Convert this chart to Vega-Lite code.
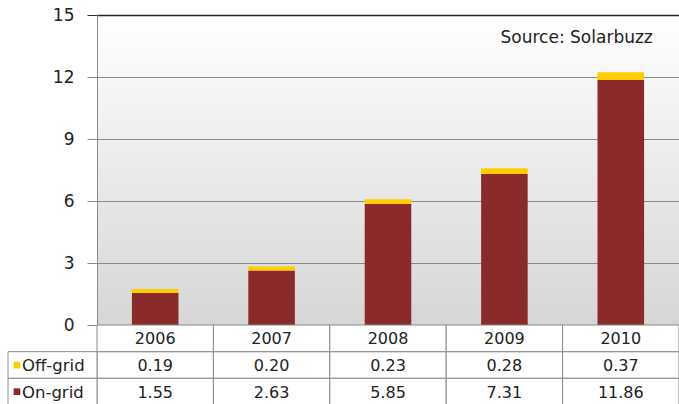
{
  "$schema": "https://vega.github.io/schema/vega-lite/v6.json",
  "autosize": "none",
  "padding": {"left": 97, "top": 15, "right": 0, "bottom": 0},
  "width": 582,
  "height": 390,
  "background": "white",
  "view": {
    "stroke": null,
    "fill": {
      "gradient": "linear", "x1": 0, "y1": 0, "x2": 0, "y2": 1,
      "stops": [
        {"offset": 0, "color": "#ffffff"},
        {"offset": 0.795, "color": "#d6d6d6"},
        {"offset": 1, "color": "#d6d6d6"}
      ]
    }
  },
  "config": {"view": {"stroke": null}, "font": "DejaVu Sans"},
  "datasets": {
    "solar": [
      {"year": "2006", "series": "Off-grid", "value": 0.19},
      {"year": "2006", "series": "On-grid", "value": 1.55},
      {"year": "2007", "series": "Off-grid", "value": 0.20},
      {"year": "2007", "series": "On-grid", "value": 2.63},
      {"year": "2008", "series": "Off-grid", "value": 0.23},
      {"year": "2008", "series": "On-grid", "value": 5.85},
      {"year": "2009", "series": "Off-grid", "value": 0.28},
      {"year": "2009", "series": "On-grid", "value": 7.31},
      {"year": "2010", "series": "Off-grid", "value": 0.37},
      {"year": "2010", "series": "On-grid", "value": 11.86}
    ]
  },
  "resolve": {"scale": {"x": "independent", "y": "independent"}},
  "layer": [
    {
      "layer": [
        {
          "data": {"name": "solar"},
          "mark": {"type": "bar"},
          "encoding": {
            "x": {"field": "year", "type": "nominal", "axis": null, "scale": {"paddingInner": 0.6, "paddingOuter": 0.3}},
            "y": {
              "field": "value", "type": "quantitative", "stack": "zero",
              "scale": {"domain": [0, 15], "range": [310, 0], "nice": false, "zero": true},
              "axis": {
                "values": [0, 3, 6, 9, 12, 15],
                "title": null,
                "grid": true,
                "gridColor": {"condition": {"test": "datum.value === 15", "value": "#2a2a2a"}, "value": "#8a8a8a"},
                "gridWidth": {"condition": {"test": "datum.value === 15", "value": 1.6}, "value": 1},
                "tickColor": {"condition": {"test": "datum.value === 15", "value": "#2a2a2a"}, "value": "#8a8a8a"},
                "tickSize": 10,
                "domainColor": "#8a8a8a",
                "labelFontSize": 17,
                "labelColor": "#222222",
                "labelPadding": 13,
                "labelFont": "DejaVu Sans"
              }
            },
            "color": {"field": "series", "type": "nominal", "scale": {"domain": ["Off-grid", "On-grid"], "range": ["#FFCC00", "#8B2A2A"]}, "legend": null},
            "order": {"field": "series", "sort": "descending"}
          }
        },
        {
          "data": {"values": [{"note": "Source: Solarbuzz"}]},
          "mark": {"type": "text", "align": "right", "baseline": "middle", "dx": 32, "fontSize": 17, "color": "#222222"},
          "encoding": {
            "x": {"datum": "2010", "type": "nominal"},
            "y": {"datum": 13.9, "type": "quantitative"},
            "text": {"field": "note"}
          }
        }
      ]
    },
    {
      "data": {"name": "solar"},
      "resolve": {"scale": {"x": "independent"}},
      "layer": [
        {
          "layer": [
            {
              "mark": {"type": "rect", "fill": "white", "stroke": "#8a8a8a", "strokeWidth": 1},
              "encoding": {
                "x": {"field": "year", "type": "nominal", "axis": null, "scale": {"paddingInner": 0, "paddingOuter": 0}},
                "y": {"field": "series", "type": "nominal", "axis": null, "scale": {"domain": ["Year", "Off-grid", "On-grid"], "range": [310, 390], "paddingInner": 0, "paddingOuter": 0}}
              }
            },
            {
              "transform": [{"filter": "datum.series == 'On-grid'"}],
              "mark": {"type": "rect", "fill": "white", "stroke": "#8a8a8a", "strokeWidth": 1},
              "encoding": {
                "x": {"field": "year", "type": "nominal"},
                "y": {"datum": "Year", "type": "nominal"}
              }
            },
            {
              "mark": {"type": "text", "baseline": "middle", "fontSize": 16, "color": "#222222", "dy": 1},
              "encoding": {
                "x": {"field": "year", "type": "nominal"},
                "y": {"field": "series", "type": "nominal"},
                "text": {"field": "value", "type": "quantitative", "format": ".2f"}
              }
            },
            {
              "transform": [{"filter": "datum.series == 'On-grid'"}],
              "mark": {"type": "text", "baseline": "middle", "fontSize": 16, "color": "#222222", "dy": 1},
              "encoding": {
                "x": {"field": "year", "type": "nominal"},
                "y": {"datum": "Year", "type": "nominal"},
                "text": {"field": "year", "type": "nominal"}
              }
            }
          ]
        },
        {
          "transform": [{"filter": "datum.year == '2006'"}],
          "layer": [
            {
              "mark": {"type": "rect", "fill": "white", "stroke": "#8a8a8a", "strokeWidth": 1},
              "encoding": {
                "x": {"datum": -0.1529, "type": "quantitative", "axis": null, "scale": {"domain": [0, 1]}},
                "x2": {"datum": 0},
                "y": {"field": "series", "type": "nominal"}
              }
            },
            {
              "mark": {"type": "square", "size": 45, "opacity": 1, "filled": true},
              "encoding": {
                "x": {"datum": -0.1375, "type": "quantitative"},
                "y": {"field": "series", "type": "nominal"},
                "color": {"field": "series", "type": "nominal", "scale": {"domain": ["Off-grid", "On-grid"], "range": ["#FFCC00", "#8B2A2A"]}, "legend": null}
              }
            },
            {
              "mark": {"type": "text", "align": "left", "baseline": "middle", "fontSize": 16.5, "color": "#222222", "dy": 1},
              "encoding": {
                "x": {"datum": -0.1289, "type": "quantitative"},
                "y": {"field": "series", "type": "nominal"},
                "text": {"field": "series", "type": "nominal"}
              }
            }
          ]
        }
      ]
    }
  ]
}
